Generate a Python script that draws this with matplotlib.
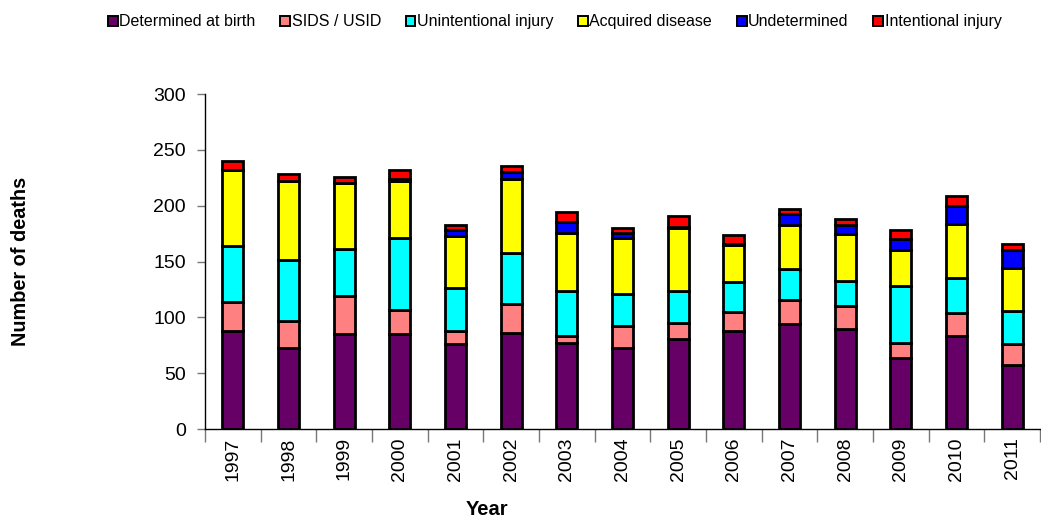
import matplotlib.pyplot as plt
import numpy as np
from matplotlib.patches import Patch
from matplotlib.ticker import MultipleLocator

plt.rcParams['font.family'] = ['Liberation Sans', 'DejaVu Sans']

years = ['1997', '1998', '1999', '2000', '2001', '2002', '2003', '2004',
         '2005', '2006', '2007', '2008', '2009', '2010', '2011']

birth = [88, 73, 85, 85, 76, 86, 77, 73, 81, 88, 94, 90, 64, 83, 57]
sids = [26, 24, 34, 22, 12, 26, 6, 19, 14, 17, 22, 20, 13, 21, 19]
unintentional = [50, 54, 42, 64, 38, 46, 41, 29, 29, 27, 27, 23, 51, 31, 30]
acquired = [68, 71, 59, 51, 47, 66, 52, 50, 56, 33, 40, 42, 32, 49, 38]
undetermined = [0, 0, 0, 2, 5, 6, 9, 5, 1, 1, 10, 8, 10, 16, 16]
intentional = [8, 6, 6, 8, 5, 6, 9, 4, 10, 8, 4, 5, 8, 9, 6]

series = [
    ('Determined at birth', birth, '#660066'),
    ('SIDS / USID', sids, '#ff8080'),
    ('Unintentional injury', unintentional, '#00ffff'),
    ('Acquired disease', acquired, '#ffff00'),
    ('Undetermined', undetermined, '#0000ff'),
    ('Intentional injury', intentional, '#ff0000'),
]

fig = plt.figure(figsize=(10.41, 5.2), dpi=100)
ax = fig.add_axes([0.197, 0.175, 0.802, 0.644])

x = np.arange(len(years))
bottom = np.zeros(len(years))
for name, vals, col in series:
    vals = np.array(vals, dtype=float)
    ax.bar(x, vals, 0.38, bottom=bottom, color=col, edgecolor='black',
           linewidth=2.0, label=name)
    bottom += vals

ax.set_xlim(-0.5, len(years) - 0.5)
ax.set_ylim(0, 300)
ax.yaxis.set_major_locator(MultipleLocator(50))

for side in ['top', 'right']:
    ax.spines[side].set_visible(False)
ax.spines['left'].set_linewidth(1.0)
ax.spines['bottom'].set_linewidth(1.0)

ax.set_xticks(x)
ax.set_xticklabels(years, rotation=90, fontsize=14)
ax.set_xticks(np.arange(-0.5, len(years), 1.0), minor=True)
ax.tick_params(axis='x', which='major', length=0, pad=6)
ax.tick_params(axis='x', which='minor', length=9, color='#777777', width=1)
ax.tick_params(axis='y', length=6, color='#777777', width=1, labelsize=14, pad=8)

fig.text(0.02, 0.498, 'Number of deaths', rotation=90, ha='center', va='center',
         fontsize=14.3, fontweight='bold')
fig.text(0.468, 0.002, 'Year', ha='center', va='bottom',
         fontsize=14.5, fontweight='bold')

handles = [Patch(facecolor=col, edgecolor='black', linewidth=1.4, label=name)
           for name, _, col in series]
fig.legend(handles=handles, loc='center', bbox_to_anchor=(0.533, 0.958),
           ncol=6, frameon=False, fontsize=11.5, handlelength=0.6,
           handleheight=0.6, handletextpad=0.1, columnspacing=1.55)

fig.savefig('out.png', dpi=100)
